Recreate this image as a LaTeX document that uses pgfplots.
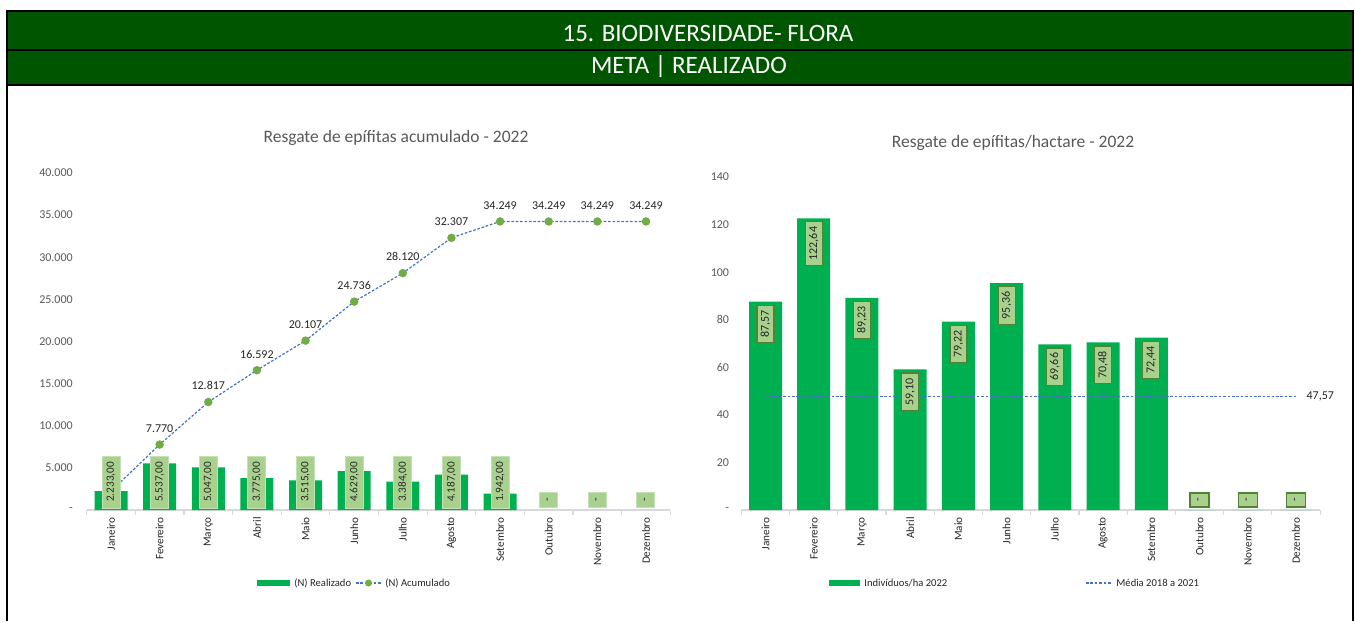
\documentclass[border=0pt]{standalone}
\usepackage{pgfplots}
\pgfplotsset{compat=1.18}
\usepackage{fontspec}
\setmainfont{Carlito}
\definecolor{hdr}{RGB}{0,85,0}
\definecolor{barg}{RGB}{0,176,80}
\definecolor{lblf}{RGB}{169,209,142}
\definecolor{lbld}{RGB}{197,224,180}
\definecolor{lbldr}{RGB}{84,130,53}
\definecolor{lineb}{RGB}{68,114,196}
\definecolor{markg}{RGB}{112,173,71}
\definecolor{txtg}{RGB}{89,89,89}
\definecolor{txtd}{RGB}{38,38,38}
\definecolor{axisg}{RGB}{217,217,217}
\newcommand{\fs}[1]{\fontsize{#1}{#1}\selectfont}
\tikzset{xldash/.style={dash pattern=on 1.3pt off 0.9pt}}
\begin{document}
\begin{tikzpicture}
% page laid out in reference pixels: 1px = 0.5pt, y runs downward
\begin{scope}[x=0.5pt,y=-0.5pt]
\fill[white] (0,0) rectangle (1355,621);
\fill[hdr] (7,11) rectangle (1353,84);
\draw[black, line width=1pt] (7,621) -- (7,11) -- (1353,11) -- (1353,621);
\draw[black, line width=1pt] (7,49.5) -- (1353,49.5);
\draw[black, line width=1pt] (7,84.5) -- (1353,84.5);
\node[white, font=\fs{12.5}] at (708,33) {15. BIODIVERSIDADE- FLORA};
\node[white, font=\fs{12.5}] at (689,67) {META | REALIZADO};
\node[text=txtg, font=\fs{8.75}] at (396,138) {Resgate de epífitas acumulado - 2022};
\node[text=txtg, font=\fs{8.75}] at (1013,143) {Resgate de epífitas/hactare - 2022};
% legends
\fill[barg] (257,580) rectangle (290,586);
\node[anchor=west, inner sep=0pt, text=txtd, font=\fs{5.3}] at (294,583) {(N) Realizado};
\draw[lineb, xldash, line width=0.6pt] (356,583) -- (381,583);
\fill[markg] (368.5,583) circle (3.5);
\node[anchor=west, inner sep=0pt, text=txtd, font=\fs{5.3}] at (385,583) {(N) Acumulado};
\fill[barg] (829,580) rectangle (860,586);
\node[anchor=west, inner sep=0pt, text=txtd, font=\fs{5.3}] at (864,583) {Indivíduos/ha 2022};
\draw[lineb, xldash, line width=0.6pt] (1086,583) -- (1112,583);
\node[anchor=west, inner sep=0pt, text=txtd, font=\fs{5.3}] at (1116,583) {Média 2018 a 2021};
\end{scope}

\pgfplotsset{
  excelaxis/.style={
    scale only axis, anchor=south west, clip=false,
    xmin=-0.5, xmax=11.5, ymin=0,
    scaled y ticks=false,
    axis x line*=bottom, axis y line*=left,
    y axis line style={draw=none},
    x axis line style={axisg, line width=0.6pt, -},
    xtick={0,...,11},
    xticklabels={Janeiro,Fevereiro,Março,Abril,Maio,Junho,Julho,Agosto,Setembro,Outubro,Novembro,Dezembro},
    xticklabel style={rotate=90, anchor=east, inner sep=0pt, inner xsep=3.5pt, text=txtd, font=\fs{5.6}},
    major tick length=0pt,
    extra x ticks={-0.5,0.5,...,11.5}, extra x tick labels={},
    extra x tick style={major tick length=2.5pt, tick align=outside, tick style={axisg, line width=0.6pt}},
    yticklabel style={anchor=east, inner sep=0pt, text=txtg, font=\fs{6}},
    ytick style={draw=none},
  },
}

% left: accumulated rescue
\begin{axis}[excelaxis,
  at={(43.35pt,-255pt)}, width=291.8pt, height=168.5pt,
  ymax=40000,
  ytick={0,5000,...,40000},
  yticklabels={-,5.000,10.000,15.000,20.000,25.000,30.000,35.000,40.000},
  yticklabel style={xshift=-6.8pt},
]
\addplot[ybar, bar width=16.5pt, fill=barg, draw=none]
  coordinates {(0,2233) (1,5537) (2,5047) (3,3775) (4,3515) (5,4629) (6,3384) (7,4187) (8,1942)};
\addplot[lineb, xldash, line width=0.6pt, mark=*, mark size=1.8pt, mark options={solid, fill=markg, draw=markg}]
  coordinates {(0,2233) (1,7770) (2,12817) (3,16592) (4,20107) (5,24736) (6,28120) (7,32307) (8,34249) (9,34249) (10,34249) (11,34249)};
\addplot[draw=none, nodes near coords, point meta=explicit symbolic,
  nodes near coords style={anchor=south, yshift=2.5pt, text=txtd, font=\fs{6}}]
  coordinates {(1,7770)[7.770] (2,12817)[12.817] (3,16592)[16.592] (4,20107)[20.107] (5,24736)[24.736] (6,28120)[28.120] (7,32307)[32.307] (8,34249)[34.249] (9,34249)[34.249] (10,34249)[34.249] (11,34249)[34.249]};
\addplot[draw=none, nodes near coords, point meta=explicit symbolic,
  nodes near coords style={rotate=90, anchor=center, fill=lblf, draw=lbld, line width=0.5pt, inner sep=0pt, minimum width=26pt, minimum height=9pt, text=txtd, font=\fs{5.6}}]
  table[meta=l] {
x y l
0 3323 2.233,00
1 3323 5.537,00
2 3323 5.047,00
3 3323 3.775,00
4 3323 3.515,00
5 3323 4.629,00
6 3323 3.384,00
7 3323 4.187,00
8 3323 1.942,00
};
\addplot[draw=none, nodes near coords, point meta=explicit symbolic,
  nodes near coords style={rotate=90, anchor=center, fill=lblf, draw=lbld, line width=0.5pt, inner sep=0pt, minimum width=7.5pt, minimum height=9pt, text=txtd, font=\fs{6}}]
  coordinates {(9,1246)[-] (10,1246)[-] (11,1246)[-]};
\end{axis}

% right: rescue per hectare
\begin{axis}[excelaxis,
  at={(370.7pt,-255pt)}, width=289.35pt, height=166.5pt,
  ymax=140,
  ytick={0,20,...,140},
  yticklabels={-,20,40,60,80,100,120,140},
  yticklabel style={xshift=-6pt},
]
\addplot[ybar, bar width=16.5pt, fill=barg, draw=none]
  coordinates {(0,87.57) (1,122.64) (2,89.23) (3,59.10) (4,79.22) (5,95.36) (6,69.66) (7,70.48) (8,72.44) (9,0) (10,0) (11,0)};
\addplot[lineb, xldash, line width=0.6pt]
  coordinates {(0,47.57) (11,47.57)}
  node[pos=1, anchor=west, inner sep=0pt, xshift=5pt, text=txtd, font=\fs{6}] {47,57};
\addplot[draw=none, nodes near coords, point meta=explicit symbolic,
  nodes near coords style={rotate=90, anchor=east, fill=lblf, draw=lbldr, line width=0.6pt, inner xsep=2.5pt, inner ysep=0pt, minimum height=8.5pt, outer xsep=1.8pt, text=txtd, font=\fs{6}}]
  table[meta=l] {
x y l
0 87.57 87,57
1 122.64 122,64
2 89.23 89,23
3 59.10 59,10
4 79.22 79,22
5 95.36 95,36
6 69.66 69,66
7 70.48 70,48
8 72.44 72,44
};
\addplot[draw=none, nodes near coords, point meta=explicit symbolic,
  nodes near coords style={rotate=90, anchor=center, fill=lblf, draw=lbldr, line width=0.6pt, inner sep=0pt, minimum width=7pt, minimum height=9.5pt, text=txtd, font=\fs{6}}]
  coordinates {(9,4.2)[-] (10,4.2)[-] (11,4.2)[-]};
\end{axis}
\end{tikzpicture}
\end{document}
